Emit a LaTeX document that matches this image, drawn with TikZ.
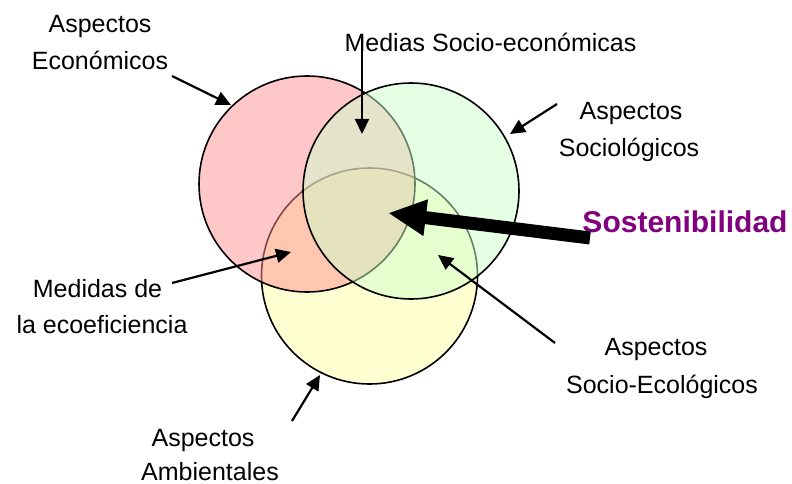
\documentclass[tikz,border=0pt]{standalone}
\usepackage{fontspec}
\setmainfont{Liberation Sans}
\usetikzlibrary{arrows.meta}
\definecolor{cyel}{RGB}{255,255,165}
\definecolor{cred}{RGB}{255,145,145}
\definecolor{cgrn}{RGB}{205,255,205}
\definecolor{sostc}{RGB}{128,0,128}
\begin{document}
\begin{tikzpicture}[x=1pt,y=-1pt,
  lbl/.style={font=\fontsize{25}{30}\selectfont, anchor=base, inner sep=0pt},
  circ/.style={draw=black, line width=1.6pt, fill opacity=0.5},
  arr/.style={line width=2.2pt, -{Triangle[length=15pt,width=14pt]}},
  bigarr/.style={line width=13pt, -{Triangle[length=38pt,width=34pt]}},
]
\useasboundingbox (0,0) rectangle (792,484);
\fill[white] (0,0) rectangle (792,484);
% circles: yellow first, then red, then green
\path[circ, fill=cyel] (369.5,276) circle[radius=108pt];
\path[circ, fill=cred] (307,184) circle[radius=108pt];
\path[circ, fill=cgrn] (411,191) circle[radius=108pt];
% labels
\node[lbl] (econ1) at (100,33) {Aspectos};
\node[lbl] (econ2) at (100,70) {Económicos};
\node[lbl] (medias) at (490.5,52) {Medias Socio-económicas};
\node[lbl] (soc1) at (631,120) {Aspectos};
\node[lbl] (soc2) at (629,157) {Sociológicos};
\node[lbl, font=\fontsize{30}{34}\selectfont\bfseries, text=sostc] (sost) at (685,232) {Sostenibilidad};
\node[lbl] (med1) at (97.5,297) {Medidas de};
\node[lbl] (med2) at (102,333) {la ecoeficiencia};
\node[lbl] (se1) at (656,355) {Aspectos};
\node[lbl] (se2) at (662,393) {Socio-Ecológicos};
\node[lbl] (amb1) at (203,446) {Aspectos};
\node[lbl] (amb2) at (210,480) {Ambientales};
% arrow end points
\coordinate (aE0) at (172,76);   \coordinate (aE1) at (231,105);
\coordinate (aM0) at (362,36);   \coordinate (aM1) at (362,134);
\coordinate (aS0) at (557,104);  \coordinate (aS1) at (510,134);
\coordinate (aB0) at (590,238);  \coordinate (aB1) at (388,213);
\coordinate (aD0) at (172,283);  \coordinate (aD1) at (291,252);
\coordinate (aX0) at (555,343);  \coordinate (aX1) at (438,255);
\coordinate (aA0) at (292,421);  \coordinate (aA1) at (320,375);
\draw[arr] (aE0) -- (aE1);
\draw[arr] (aM0) -- (aM1);
\draw[arr] (aS0) -- (aS1);
\draw[arr] (aD0) -- (aD1);
\draw[arr] (aX0) -- (aX1);
\draw[arr] (aA0) -- (aA1);
\draw[bigarr] (aB0) -- (aB1);
\end{tikzpicture}
\end{document}
